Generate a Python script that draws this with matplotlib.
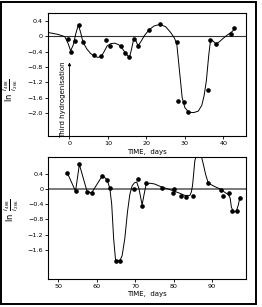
import numpy as np
import matplotlib.pyplot as plt
import matplotlib as mpl
from matplotlib.patches import Rectangle

mpl.rcParams["font.family"] = "DejaVu Sans"
mpl.rcParams["axes.unicode_minus"] = True

# top panel: measured points
top_x = [-0.5, 0.3, 1.4, 2.4, 3.5, 6.4, 8.2, 9.5, 10.5, 13.5, 14.4, 15.6, 16.7, 17.9,
         20.7, 23.6, 27.9, 28.2, 29.9, 30.9, 36.0, 36.6, 38.1, 42.0, 42.9]
top_y = [-0.08, -0.40, -0.12, 0.29, -0.14, -0.50, -0.51, -0.10, -0.26, -0.25, -0.43, -0.53,
         -0.08, -0.26, 0.16, 0.31, -0.14, -1.70, -1.72, -1.97, -1.39, -0.09, -0.19, 0.06, 0.22]

# top panel: hand-drawn curve
top_curve_x = [-5.6, -3.0, -1.2, -0.3, 0.3, 1.0, 1.6, 2.3, 2.9, 3.5, 4.5, 5.5, 6.5, 7.4, 8.3,
               9.0, 9.8, 10.8, 11.8, 12.8, 13.8, 14.8, 15.6, 16.1, 16.7, 17.3, 17.8, 18.5,
               19.5, 20.7, 22.0, 23.5, 25.0, 26.3, 27.3, 27.9, 28.6, 29.3, 30.0, 31.0, 32.3,
               33.5, 34.4, 35.0, 35.6, 36.2, 36.7, 37.4, 38.1, 39.0, 40.0, 41.0, 42.0, 43.0]
top_curve_y = [0.10, 0.05, -0.01, -0.20, -0.38, -0.22, 0.05, 0.30, 0.10, -0.15, -0.33, -0.45,
               -0.52, -0.55, -0.52, -0.40, -0.25, -0.19, -0.18, -0.22, -0.33, -0.47, -0.55,
               -0.35, -0.07, -0.12, -0.25, -0.15, 0.02, 0.17, 0.27, 0.31, 0.25, 0.10, -0.05,
               -0.20, -0.90, -1.60, -1.86, -1.98, -1.99, -1.95, -1.80, -1.55, -1.15, -0.50,
               -0.08, -0.13, -0.20, -0.14, -0.05, 0.03, 0.10, 0.19]

# bottom panel: measured points
bot_x = [52.4, 54.5, 55.5, 57.5, 58.7, 61.5, 62.7, 63.4, 64.9, 66.0, 69.7, 70.8, 71.8, 72.7,
         77.0, 79.8, 80.0, 81.8, 83.2, 85.1, 89.0, 92.3, 92.9, 94.4, 95.2, 96.4, 97.3]
bot_y = [0.41, -0.06, 0.64, -0.07, -0.10, 0.35, 0.24, 0.02, -1.89, -1.89, 0.01, 0.25, -0.44,
         0.15, 0.03, -0.10, 0.01, -0.18, -0.20, -0.18, 0.15, -0.04, -0.18, -0.11, -0.58,
         -0.58, -0.24]

# bottom panel: hand-drawn curve
bot_curve_x = [52.4, 54.5, 55.5, 57.5, 58.7, 61.5, 62.7, 63.4, 63.9, 64.4, 64.9, 66.0, 66.6,
               67.3, 68.0, 68.6, 69.2, 69.8, 70.4, 71.0, 71.8, 72.3, 72.8, 73.8, 75.0, 76.9,
               78.5, 79.9, 81.5, 82.9, 84.2, 84.6, 84.9, 85.2, 85.5, 86.0, 86.6, 87.2, 87.7,
               88.3, 89.0, 90.5, 92.0, 93.3, 94.3, 94.7, 95.0, 95.6, 96.3, 96.8, 97.2]
bot_curve_y = [0.41, -0.06, 0.64, -0.07, -0.10, 0.35, 0.24, 0.02, -0.40, -1.30, -1.86, -1.88,
               -1.75, -1.30, -0.60, -0.15, 0.08, 0.16, 0.18, 0.00, -0.42, -0.15, 0.10, 0.15,
               0.13, 0.05, 0.00, -0.05, -0.11, -0.17, -0.17, -0.08, 0.09, 0.40, 0.74, 0.90,
               0.92, 0.85, 0.65, 0.38, 0.15, 0.07, 0.00, -0.09, -0.16, -0.25, -0.48, -0.61,
               -0.58, -0.42, -0.22]

top_yticks = [0.4, 0, -0.4, -0.8, -1.2, -1.6, -2.0]
bot_yticks = [0.4, 0, -0.4, -0.8, -1.2, -1.6]


def _fmt(v):
    if v == 0:
        return "0"
    return f"{v:.1f}".replace("-", "\u2212")


def _style(ax, xticks, yticks, xlim, ylim, zero_lw=0.8, zero_c="#333333"):
    ax.set_xlim(*xlim)
    ax.set_ylim(*ylim)
    ax.set_xticks(xticks)
    ax.set_yticks(yticks)
    ax.set_yticklabels([_fmt(v) for v in yticks])
    ax.tick_params(labelsize=4.6, length=2, width=0.6, pad=1.5, direction="out")
    for s in ax.spines.values():
        s.set_linewidth(0.8)
    ax.axhline(0, color=zero_c, lw=zero_lw, zorder=1)
    ax.set_xlabel("TIME,  days", fontsize=5, labelpad=2)
    ax.set_ylabel(r"$\ln\ \frac{I_{488}}{I_{266}}$", fontsize=6, labelpad=1)


fig = plt.figure(figsize=(2.62, 3.07), dpi=100)

ax1 = fig.add_axes([0.183, 0.557, 0.756, 0.401])
ax1.plot(top_curve_x, top_curve_y, color="black", lw=0.7, zorder=2)
ax1.plot(top_x, top_y, "o", color="black", ms=2.3, zorder=3)
_style(ax1, [0, 10, 20, 30, 40], top_yticks, (-5.6, 45.9), (-2.6, 0.61))
ax1.yaxis.set_label_coords(-0.14, 0.37)
ax1.annotate("", xy=(0, -0.68), xytext=(0, -2.6),
             arrowprops=dict(arrowstyle="-|>", color="black", lw=0.6,
                             mutation_scale=4.5, shrinkA=0, shrinkB=0))
ax1.text(-1.7, -1.65, "Third hydrogenisation", rotation=90, fontsize=5,
         ha="center", va="center")

ax2 = fig.add_axes([0.184, 0.092, 0.755, 0.396])
ax2.plot(bot_curve_x, bot_curve_y, color="black", lw=0.7, zorder=2, clip_on=True)
ax2.plot(bot_x, bot_y, "o", color="black", ms=2.3, zorder=3)
_style(ax2, [50, 60, 70, 80, 90], bot_yticks, (47.4, 98.8), (-2.35, 0.83),
       zero_lw=1.1, zero_c="#555555")
ax2.yaxis.set_label_coords(-0.14, 0.56)

# border round the whole figure
fig.patches.append(Rectangle((0.004, 0.01), 0.975, 0.985, transform=fig.transFigure,
                             fill=False, lw=1.4, edgecolor="black"))

fig.savefig("out.png", dpi=100)
